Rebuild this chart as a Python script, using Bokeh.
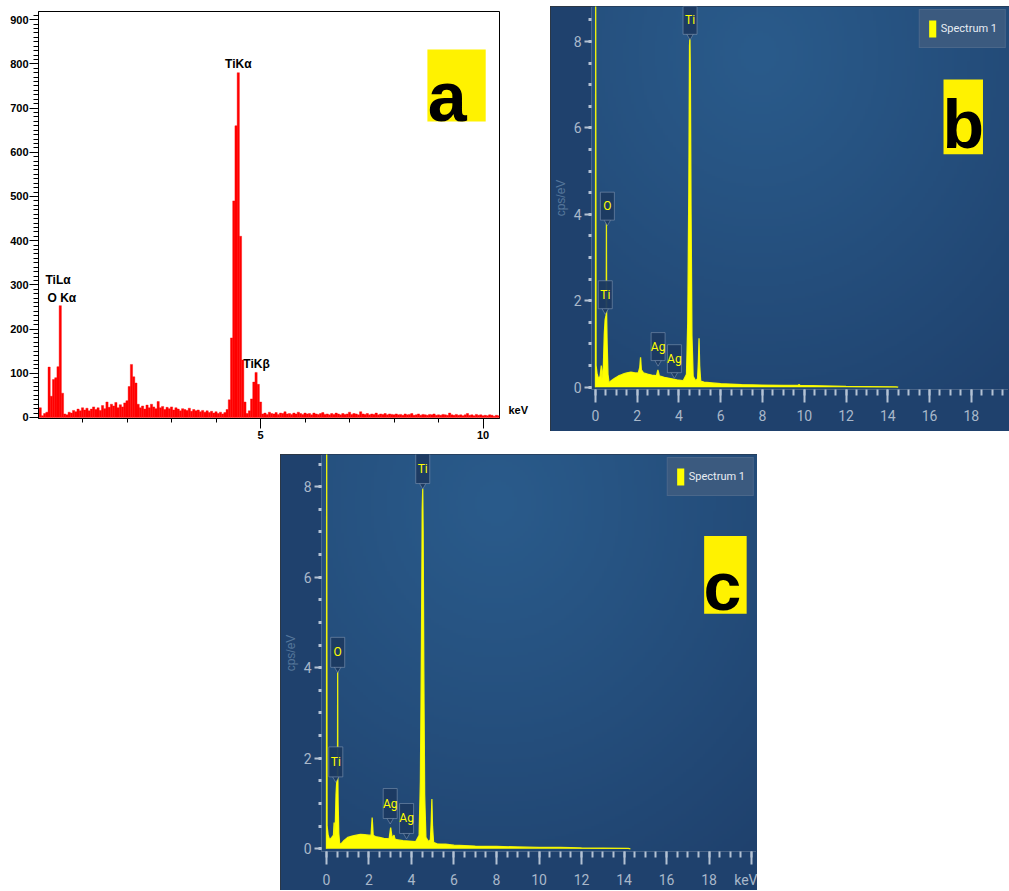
import numpy as np
from bokeh.plotting import figure
from bokeh.models import (Range1d, SingleIntervalTicker, FixedTicker, LinearAxis,
                          Legend, LegendItem, Spacer)
from bokeh.layouts import column, row
from bokeh.embed import file_html
from bokeh.resources import INLINE
from bokeh.core.properties import value

# ---------------- data ----------------
# panel a : EDS counts in 0.05 keV bins, first bin centred at 0.05 keV
a_start_kev = 0.05
a_bin_kev = 0.05
a_counts = [
    22, 4, 9, 12, 114, 48, 86, 90, 115, 253, 55, 8, 6, 12, 10, 16, 13, 19, 15, 22,
    17, 21, 15, 19, 24, 18, 22, 16, 27, 20, 35, 23, 30, 26, 34, 22, 29, 24, 33, 38,
    70, 120, 92, 78, 30, 22, 26, 19, 28, 22, 30, 24, 20, 36, 22, 25, 18, 23, 20, 24,
    17, 22, 19, 15, 20, 18, 16, 21, 14, 18, 15, 17, 13, 16, 12, 15, 11, 14, 10, 13,
    9, 12, 8, 11, 18, 40, 180, 490, 660, 780, 410, 130, 35, 9, 15, 42, 80, 102, 75, 35,
    8, 10, 7, 12, 9, 8, 11, 7, 10, 9, 13, 8, 9, 7, 10, 8, 12, 9, 7, 10,
    8, 9, 6, 10, 8, 7, 9, 11, 7, 8, 6, 9, 7, 10, 8, 6, 9, 7, 8, 12,
    7, 9, 8, 6, 13, 8, 7, 9, 6, 8, 7, 10, 6, 8, 7, 9, 6, 8, 7, 6,
    8, 6, 7, 5, 8, 6, 7, 9, 5, 6, 8, 5, 7, 6, 5, 7, 6, 8, 5, 6,
    5, 7, 6, 5, 10, 6, 5, 7, 5, 6, 4, 6, 9, 5, 6, 4, 7, 5, 6, 4,
    5, 4, 6, 5, 3, 5, 4,
]
a_label_text = ["TiKα", "TiLα", "O Kα", "TiKβ"]
a_label_kev = [4.50, 0.45, 0.535, 4.91]
a_label_cnt = [799, 310, 271, 120]

# panel b : cps/eV spectrum
b_kev = [0.00, 0.01, 0.03, 0.08, 0.15, 0.22, 0.28, 0.31, 0.34, 0.38, 0.42, 0.46, 0.50,
         0.515, 0.525, 0.535, 0.56, 0.60, 0.65, 0.75, 0.9, 1.1, 1.3, 1.5, 1.7, 1.9,
         2.05, 2.12, 2.16, 2.20, 2.3, 2.5, 2.7, 2.92, 2.99, 3.06, 3.3, 3.6, 3.9, 4.2,
         4.36, 4.42, 4.47, 4.505, 4.525, 4.545, 4.58, 4.62, 4.68, 4.8, 4.89, 4.93,
         4.96, 4.99, 5.04, 5.2, 5.6, 6.0, 7.0, 8.0, 9.0, 9.7, 9.75, 9.8, 11.0, 12.0,
         13.0, 14.4, 14.5]
b_cps = [0, 9.5, 0.5, 0.3, 0.2, 0.25, 0.5, 0.2, 0.3, 0.5, 1.2, 1.55, 1.65,
         1.7, 3.8, 1.65, 1.0, 0.3, 0.1, 0.15, 0.2, 0.26, 0.3, 0.33, 0.35, 0.33,
         0.33, 0.45, 0.69, 0.4, 0.33, 0.3, 0.28, 0.27, 0.4, 0.26, 0.23, 0.2, 0.17, 0.15,
         0.3, 1.5, 4.5, 7.9, 8.1, 7.2, 4.0, 1.2, 0.25, 0.15, 0.2, 0.6,
         1.13, 0.5, 0.14, 0.12, 0.1, 0.08, 0.06, 0.05, 0.04, 0.04, 0.06, 0.04, 0.03, 0.02,
         0.015, 0.01, 0]
b_tag_names = ["Ti", "O", "Ti", "Ag", "Ag"]
b_tag_kev = [4.53, 0.57, 0.47, 3.00, 3.78]
b_tag_tip = [8.05, 3.75, 1.70, 0.50, 0.22]

# panel c : cps/eV spectrum
c_kev = [0.00, 0.01, 0.03, 0.08, 0.15, 0.25, 0.33, 0.36, 0.39, 0.42, 0.45, 0.48, 0.51,
         0.52, 0.528, 0.536, 0.55, 0.58, 0.62, 0.67, 0.8, 1.0, 1.2, 1.4, 1.6, 1.8, 2.0,
         2.1, 2.15, 2.2, 2.3, 2.5, 2.7, 2.95, 3.02, 3.09, 3.18, 3.22, 3.3, 3.6, 3.9,
         4.2, 4.36, 4.42, 4.47, 4.505, 4.53, 4.55, 4.58, 4.62, 4.68, 4.8, 4.89, 4.93,
         4.96, 4.99, 5.04, 5.2, 5.6, 6.0, 7.0, 8.0, 9.0, 10.0, 11.0, 12.0, 13.0, 14.2, 14.3]
c_cps = [0, 9.5, 0.5, 0.3, 0.2, 0.25, 0.3, 0.58, 0.25, 0.6, 1.2, 1.45, 1.55,
         1.6, 3.96, 1.55, 1.0, 0.35, 0.12, 0.1, 0.17, 0.25, 0.28, 0.3, 0.32, 0.31, 0.3,
         0.3, 0.69, 0.3, 0.27, 0.25, 0.23, 0.22, 0.47, 0.24, 0.3, 0.22, 0.2, 0.18, 0.17,
         0.16, 0.3, 1.5, 4.5, 7.5, 7.96, 7.0, 4.0, 1.2, 0.25, 0.16, 0.2, 0.6,
         1.1, 0.5, 0.14, 0.11, 0.1, 0.08, 0.06, 0.05, 0.04, 0.03, 0.03, 0.02, 0.015, 0.01, 0]
c_tag_names = ["Ti", "O", "Ti", "Ag", "Ag"]
c_tag_kev = [4.53, 0.53, 0.44, 3.00, 3.77]
c_tag_tip = [7.96, 3.90, 1.48, 0.56, 0.23]

# ---------------- styles ----------------
SANS = "Liberation Sans"
UI = "Roboto"
TAG_YELLOW = "#fff200"
SPEC_YELLOW = "#ffff00"
BG_EDGE = "#1f416d"
BG_CENTER = (42, 91, 139)
BG_OUT = (31, 65, 109)

# ---------------- panel a ----------------
a_kev = [round(a_start_kev + i * a_bin_kev, 3) for i in range(len(a_counts))]

pa = figure(width=550, height=452, x_range=Range1d(0.011, 10.37), y_range=Range1d(-2.3, 918.5),
            output_backend="svg", toolbar_location=None,
            min_border_left=38, min_border_right=51, min_border_top=11, min_border_bottom=34,
            background_fill_color="white", border_fill_color="white")
pa.grid.visible = False
pa.outline_line_color = "black"
pa.outline_line_width = 1
pa.vbar(x=a_kev, top=a_counts, bottom=0, width=a_bin_kev,
        fill_color="#ff0000", line_color="#ff0000", line_width=0.4)

xa = pa.xaxis[0]
ya = pa.yaxis[0]
xa.ticker = SingleIntervalTicker(interval=5, num_minor_ticks=5)
ya.ticker = SingleIntervalTicker(interval=100, num_minor_ticks=10)
for ax in (xa, ya):
    ax.axis_line_color = "black"
    ax.major_tick_line_color = "black"
    ax.minor_tick_line_color = "black"
    ax.major_tick_in = 0
    ax.minor_tick_in = 0
    ax.major_label_text_font = SANS
    ax.major_label_text_font_style = "bold"
    ax.major_label_text_font_size = "11px"
    ax.major_label_text_color = "black"
xa.major_tick_out = 10
xa.minor_tick_out = 4
xa.major_label_standoff = 2
ya.major_tick_out = 9
ya.minor_tick_out = 5
ya.major_label_standoff = 1

# "keV" unit written at the right end of the energy axis
kev_ax = LinearAxis(ticker=FixedTicker(ticks=[16]), major_label_overrides={16: "keV"},
                    axis_line_color=None, major_tick_line_color=None,
                    minor_tick_line_color=None, major_label_standoff=3,
                    major_label_text_font=SANS, major_label_text_font_style="bold",
                    major_label_text_font_size="11px", major_label_text_color="black")
pa.add_layout(kev_ax, "right")

pa.text(x=a_label_kev, y=a_label_cnt, text=a_label_text, text_align="center",
        text_baseline="middle", text_font=value(SANS), text_font_style="bold",
        text_font_size="12px", text_color="black")
# panel tag "a"
pa.quad(left=[8.75], right=[10.06], bottom=[669.7], top=[832.6],
        fill_color=TAG_YELLOW, line_alpha=0)
pa.text(x=[8.76], y=[726], text=["a"], text_font=value(SANS), text_font_style="bold",
        text_font_size="70px", text_baseline="alphabetic", text_align="left",
        text_color="black")


# ---------------- panels b / c ----------------
def gradient(nx=160, ny=160, cx=0.4, cy=0.88):
    yy, xx = np.mgrid[0:ny, 0:nx]
    fx = xx / (nx - 1)
    fy = yy / (ny - 1)
    d = np.sqrt(((fx - cx) / 0.95) ** 2 + ((fy - cy) / 1.15) ** 2)
    t = np.clip(d, 0, 1) ** 1.1
    img = np.empty((ny, nx), dtype=np.uint32)
    view = img.view(dtype=np.uint8).reshape((ny, nx, 4))
    for k in range(3):
        view[:, :, k] = (BG_CENTER[k] + (BG_OUT[k] - BG_CENTER[k]) * t).astype(np.uint8)
    view[:, :, 3] = 255
    return img


def eds_panel(width, height, xr, yr, mb_left, mb_bottom, kev, cps,
              tag_names, tag_kev, tag_tip, box_h, letter, lbox, lpos,
              legend_margin, overrides=None):
    p = figure(width=width, height=height, x_range=Range1d(*xr), y_range=Range1d(*yr),
               output_backend="svg", toolbar_location=None,
               min_border_left=mb_left, min_border_right=0, min_border_top=0,
               min_border_bottom=mb_bottom,
               background_fill_color=BG_EDGE, border_fill_color=BG_EDGE)
    p.styles = {"outline": "1px solid #30343a", "outline-offset": "-1px"}
    p.grid.visible = False
    p.outline_line_color = None
    p.image_rgba(image=[gradient()], x=xr[0], y=yr[0], dw=xr[1] - xr[0], dh=yr[1] - yr[0],
                 level="image")

    r = p.varea(x=kev, y1=0, y2=cps, fill_color=SPEC_YELLOW, fill_alpha=1)
    p.line(x=kev, y=cps, line_color=SPEC_YELLOW, line_width=1.3, line_alpha=0.9)

    # peak tags
    frame_h = height - mb_bottom
    ppu = frame_h / (yr[1] - yr[0])
    gap = 5
    yc = [t + (gap + box_h / 2) / ppu for t in tag_tip]
    ytri = [t + 3.5 / ppu for t in tag_tip]
    p.scatter(x=tag_kev, y=ytri, marker="inverted_triangle", size=7,
              fill_color="#1c3a61", line_color="#7f95b0", line_alpha=0.6)
    p.rect(x=tag_kev, y=yc, width=14, height=box_h, width_units="screen",
           height_units="screen", fill_color="#1c3a61", fill_alpha=0.95,
           line_color="#7f95b0", line_alpha=0.6, line_width=1)
    p.text(x=tag_kev, y=yc, text=tag_names, text_align="center", text_baseline="middle",
           text_color=SPEC_YELLOW, text_font=value(UI), text_font_size="12px")

    xa = p.xaxis[0]
    ya = p.yaxis[0]
    xa.ticker = SingleIntervalTicker(interval=2, num_minor_ticks=4)
    ya.ticker = SingleIntervalTicker(interval=2, num_minor_ticks=4)
    for ax in (xa, ya):
        ax.axis_line_color = None
        ax.major_tick_line_color = "#b4c2d3"
        ax.minor_tick_line_color = "#b4c2d3"
        ax.major_tick_in = 0
        ax.minor_tick_in = 0
        ax.major_tick_line_width = 2
        ax.major_label_text_font = UI
        ax.major_label_text_font_size = "14px"
        ax.major_label_text_color = "#a9b8ca"
    xa.major_tick_out = 13
    xa.minor_tick_out = 6
    xa.minor_tick_line_width = 2
    xa.major_label_standoff = 7
    ya.major_tick_out = 7
    ya.minor_tick_out = 3
    ya.minor_tick_line_width = 3
    ya.major_label_standoff = 3
    ya.axis_label = "cps/eV"
    ya.axis_label_text_color = "#56779b"
    ya.axis_label_text_font = SANS
    ya.axis_label_text_font_style = "normal"
    ya.axis_label_text_font_size = "12px"
    ya.axis_label_standoff = 3
    if overrides:
        xa.major_label_overrides = overrides

    legend = Legend(items=[LegendItem(label="Spectrum 1", renderers=[r])],
                    location="top_right", margin=legend_margin, padding=8, spacing=0,
                    glyph_width=9, glyph_height=21, label_standoff=4,
                    label_width=40, label_height=21,
                    label_text_font=UI, label_text_font_size="11px",
                    label_text_color="#e8edf3", background_fill_color="#3b5a7f",
                    background_fill_alpha=1, border_line_color="#5a7496",
                    border_line_alpha=0.5)
    p.add_layout(legend)

    # panel tag letter
    p.quad(left=[lbox[0]], right=[lbox[1]], bottom=[lbox[2]], top=[lbox[3]],
           fill_color=TAG_YELLOW, line_alpha=0)
    p.text(x=[lpos[0]], y=[lpos[1]], text=[letter], text_font=value(SANS),
           text_font_style="bold", text_font_size="68px", text_baseline="alphabetic",
           text_align="left", text_color="black")
    return p


pb = eds_panel(459, 425, (-0.19, 19.83), (-0.053, 8.81), 35, 42, b_kev, b_cps,
               b_tag_names, b_tag_kev, b_tag_tip, 28, "b",
               (16.67, 18.56, 5.39, 7.12), (16.62, 6.09), 3)

pc = eds_panel(477, 436, (-0.233, 20.28), (-0.06, 8.71), 36, 37, c_kev, c_cps,
               c_tag_names, c_tag_kev, c_tag_tip, 30, "c",
               (17.77, 19.77, 5.19, 6.91), (17.74, 5.81), 3,
               overrides={20: "keV"})

layout = column(
    row(pa, column(Spacer(width=459, height=6), pb)),
    row(Spacer(width=280, height=438), column(Spacer(width=477, height=2), pc)),
)

open("out.html", "w").write(file_html(layout, INLINE))
